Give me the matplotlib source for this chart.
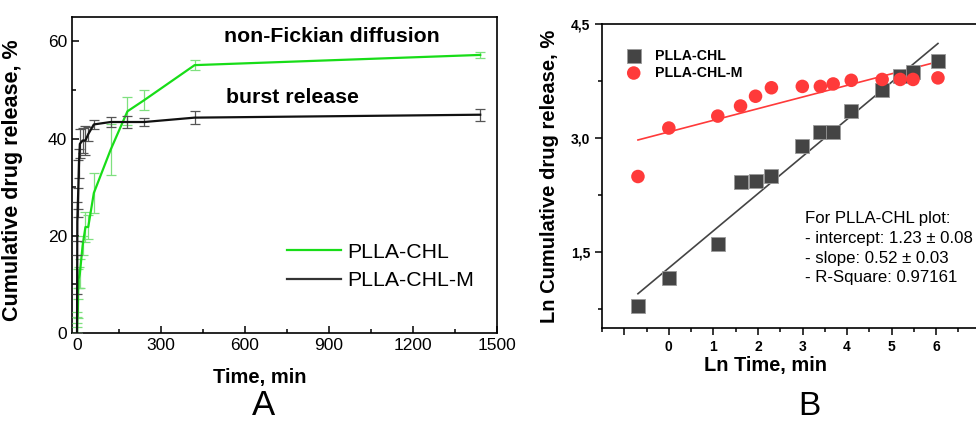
import numpy as np
import matplotlib
matplotlib.use('Agg')
import matplotlib.pyplot as plt
from matplotlib.ticker import MultipleLocator, FixedLocator

plt.rcParams['font.family'] = ['Liberation Sans', 'DejaVu Sans']

# Panel A: release profile
time_min = [0, 0.5, 1, 3, 5, 7, 10, 20, 30, 40, 60, 120, 180, 240, 420, 1440]
chl = [0, 2.2, 3.2, 5.0, 11.2, 11.4, 12.2, 18.0, 21.8, 21.8, 28.8, 37.7, 45.6, 47.9, 55.1, 57.2]
chl_err = [0, 1.0, 1.2, 2.0, 2.0, 2.2, 3.0, 2.0, 3.0, 2.5, 4.2, 5.2, 2.9, 2.0, 1.0, 0.7]
chl_m = [0, 12.1, 22.9, 26.8, 30.6, 34.8, 38.9, 39.6, 39.6, 40.9, 42.9, 43.4, 43.4, 43.4, 44.3, 44.9]
chl_m_err = [0, 4.0, 4.0, 3.0, 5.0, 3.0, 3.0, 2.5, 3.0, 1.5, 1.0, 1.0, 1.3, 0.9, 1.3, 1.2]

# Panel B: log-log plot (the 14 time points between t=0 and 1440 min)
ln_time = np.log(time_min[1:-1])
ln_chl = np.log(chl[1:-1])
ln_chl_m = np.log(chl_m[1:-1])
fit_chl = (1.29, 0.489)      # intercept, slope as drawn
fit_chl_m = (3.08, 0.153)

GREEN = '#18dd18'
fig = plt.figure(figsize=(9.76, 4.24), dpi=100)

# ---------- A ----------
axA = fig.add_axes([72 / 976, 91 / 424, 425 / 976, 316 / 424])
axA.errorbar(time_min, chl, yerr=chl_err, color=GREEN, ecolor='#7fe07f', lw=1.6,
             elinewidth=0.9, capsize=3.5, capthick=0.9, zorder=3)
axA.errorbar(time_min, chl_m, yerr=chl_m_err, color='#111111', ecolor='#555555', lw=1.6,
             elinewidth=0.9, capsize=3.5, capthick=0.9, zorder=4)
axA.set_xlim(-18, 1500)
axA.set_ylim(0, 65)
axA.xaxis.set_major_locator(MultipleLocator(300))
axA.xaxis.set_minor_locator(MultipleLocator(150))
axA.yaxis.set_major_locator(MultipleLocator(20))
axA.yaxis.set_minor_locator(MultipleLocator(10))
axA.tick_params(which='both', direction='in', labelsize=12.5, width=1.1)
axA.tick_params(which='major', length=5)
axA.tick_params(which='minor', length=3)
for s in axA.spines.values():
    s.set_linewidth(1.2)
axA.set_ylabel('Cumulative drug release, %', fontsize=15.5, fontweight='bold')
axA.yaxis.set_label_coords(-0.115, 0.484)
axA.text(0.612, 0.937, 'non-Fickian diffusion', transform=axA.transAxes,
         ha='center', va='center', fontsize=15.3, fontweight='bold')
axA.text(0.518, 0.744, 'burst release', transform=axA.transAxes,
         ha='center', va='center', fontsize=15.3, fontweight='bold')
handles = [plt.Line2D([], [], color=GREEN, lw=1.6),
           plt.Line2D([], [], color='#333333', lw=1.6)]
axA.legend(handles, ['PLLA-CHL', 'PLLA-CHL-M'], loc='center left',
           bbox_to_anchor=(0.462, 0.21), frameon=False, fontsize=15.3,
           handlelength=2.5, handletextpad=0.3, labelspacing=0.45)
fig.text(260 / 976, 1 - 378 / 424, 'Time, min', ha='center', va='center',
         fontsize=14.5, fontweight='bold')
fig.text(264 / 976, 1 - 415 / 424, 'A', ha='center', va='baseline', fontsize=25)

# ---------- B ----------
axB = fig.add_axes([602 / 976, 96 / 424, 401 / 976, 304 / 424])
axB.scatter(ln_time, ln_chl, marker='s', s=90, color='#444444', edgecolors='#9a9a9a',
            linewidths=0.6, label='PLLA-CHL', zorder=4)
axB.scatter(ln_time, ln_chl_m, marker='o', s=95, color='#ff3a3a', edgecolors='none',
            label='PLLA-CHL-M', zorder=4)
xs = np.array([ln_time[0], ln_time[-1]])
axB.plot(xs, fit_chl[0] + fit_chl[1] * xs, color='#444444', lw=1.2, zorder=3)
axB.plot(xs, fit_chl_m[0] + fit_chl_m[1] * xs, color='#ff3a3a', lw=1.2, zorder=3)
axB.set_xlim(-1.5, 7.5)
axB.set_ylim(0.5, 4.5)
axB.xaxis.set_major_locator(FixedLocator([-1, 0, 1, 2, 3, 4, 5, 6, 7]))
axB.set_xticklabels(['', '0', '1', '2', '3', '4', '5', '6', ''])
axB.xaxis.set_minor_locator(MultipleLocator(0.5))
axB.yaxis.set_major_locator(FixedLocator([1.5, 3.0, 4.5]))
axB.set_yticklabels(['1,5', '3,0', '4,5'])
axB.yaxis.set_minor_locator(MultipleLocator(0.75))
axB.tick_params(which='both', direction='out', labelsize=10, width=1.1)
axB.tick_params(which='major', length=5)
axB.tick_params(which='minor', length=3)
for lab in axB.get_xticklabels() + axB.get_yticklabels():
    lab.set_fontweight('bold')
for s in axB.spines.values():
    s.set_linewidth(1.2)
axB.set_ylabel('Ln Cumulative drug release, %', fontsize=14.5, fontweight='bold')
axB.yaxis.set_label_coords(-0.108, 0.5)
axB.legend(loc='upper left', bbox_to_anchor=(0.012, 0.96), frameon=False,
           prop={'size': 10.2, 'weight': 'bold'}, handletextpad=0.5,
           labelspacing=0.2, scatterpoints=1)
axB.text(0.506, 0.385, 'For PLLA-CHL plot:\n- intercept: 1.23 \u00b1 0.08\n'
         '- slope: 0.52 \u00b1 0.03\n- R-Square: 0.97161',
         transform=axB.transAxes, ha='left', va='top', fontsize=12.1, linespacing=1.4)
fig.text(766 / 976, 1 - 365 / 424, 'Ln Time, min', ha='center', va='center',
         fontsize=14.4, fontweight='bold')
fig.text(809 / 976, 1 - 415 / 424, 'B', ha='center', va='baseline', fontsize=24)

fig.savefig('out.png', dpi=100)
